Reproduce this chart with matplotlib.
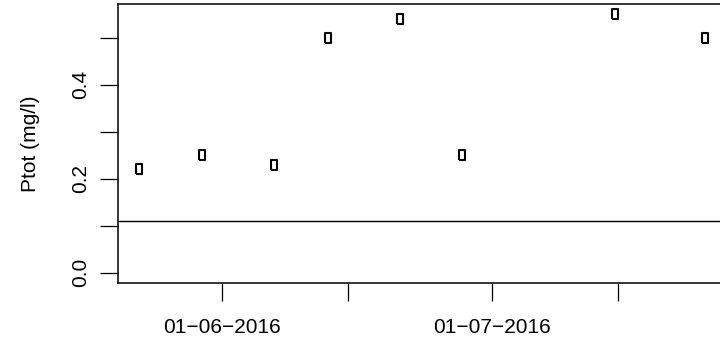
import matplotlib
matplotlib.use("Agg")
import matplotlib.pyplot as plt
import matplotlib.dates as mdates
import numpy as np
from datetime import datetime

plt.rcParams['font.family'] = ['Liberation Sans', 'DejaVu Sans']

# sampling dates and total phosphorus
dates = ["2016-05-22 18:00", "2016-05-29 18:00", "2016-06-06 18:00", "2016-06-12 18:00",
         "2016-06-20 18:00", "2016-06-27 18:00", "2016-07-14 18:00", "2016-07-24 18:00"]
ptot = [0.22, 0.25, 0.23, 0.50, 0.54, 0.25, 0.55, 0.50]
limit = 0.11

xticks = ["2016-06-01", "2016-06-15", "2016-07-01", "2016-07-15"]
xticklabels = ["01\u221206\u22122016", "", "01\u221207\u22122016", ""]
yticks = [0.0, 0.1, 0.2, 0.3, 0.4, 0.5]
yticklabels = ["0.0", "", "0.2", "", "0.4", ""]

x = mdates.date2num([datetime.strptime(d, "%Y-%m-%d %H:%M") for d in dates])
xt = mdates.date2num([datetime.strptime(d, "%Y-%m-%d") for d in xticks])

fig = plt.figure(figsize=(7.2, 3.4), dpi=100)
ax = fig.add_axes([118/720, 1-283/340, (730-118)/720, (283-4)/340])

rect = [(-0.5, -1), (0.5, -1), (0.5, 1), (-0.5, 1), (-0.5, -1)]
ax.plot(x, ptot, linestyle="none", marker=rect, markersize=7.4,
        markerfacecolor="none", markeredgecolor="black", markeredgewidth=1.5)
ax.axhline(limit, color="black", lw=1.0)

rng = x.max() - x.min()
ax.set_xlim(x.min() - 0.04*rng + 0.22, x.max() + 0.04*rng + 0.22)
ax.set_ylim(-0.022, 0.572)

ax.set_xticks(xt)
ax.set_xticklabels(xticklabels)
ax.set_yticks(yticks)
ax.set_yticklabels(yticklabels)
ax.tick_params(axis='both', length=13, width=0.9, labelsize=15, color="black")
ax.tick_params(axis='x', pad=12)
ax.tick_params(axis='y', pad=7, labelrotation=90)
for lab in ax.get_yticklabels():
    lab.set_va("center")

for s in ax.spines.values():
    s.set_linewidth(1.1)

ax.set_ylabel("Ptot (mg/l)", fontsize=15)
ax.yaxis.set_label_coords((30-118)/(730-118), 0.5)
ax.yaxis.label.set_va("center")

fig.savefig("out.png", dpi=100)
